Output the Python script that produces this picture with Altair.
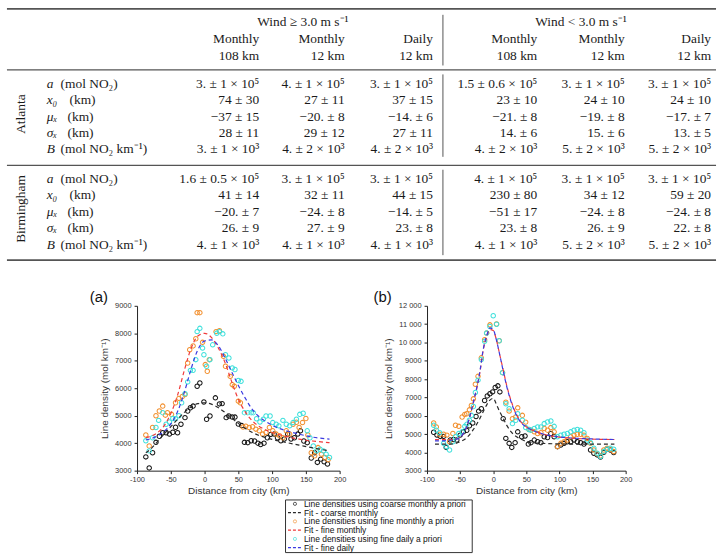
import altair as alt
import pandas as pd

SERIF = "Liberation Serif"
SANS = "Liberation Sans"

# ---------------- fitted parameter table ----------------
wind_heads = ["Wind ≥ 3.0 m s⁻¹", "Wind < 3.0 m s⁻¹"]
prior_kind = ["Monthly", "Monthly", "Daily", "Monthly", "Monthly", "Daily"]
prior_res = ["108 km", "12 km", "12 km", "108 km", "12 km", "12 km"]
param_sym = ["a", "x₀", "μₓ", "σₓ", "B"]
param_unit = ["(mol NO₂)", "(km)", "(km)", "(km)", "(mol NO₂ km⁻¹)"]
city_names = ["Atlanta", "Birmingham"]

atlanta_fits = [
    ["3. ± 1 × 10⁵", "4. ± 1 × 10⁵", "3. ± 1 × 10⁵", "1.5 ± 0.6 × 10⁵", "3. ± 1 × 10⁵", "3. ± 1 × 10⁵"],
    ["74 ± 30", "27 ± 11", "37 ± 15", "23 ± 10", "24 ± 10", "24 ± 10"],
    ["−37 ± 15", "−20. ± 8", "−14. ± 6", "−21. ± 8", "−19. ± 8", "−17. ± 7"],
    ["28 ± 11", "29 ± 12", "27 ± 11", "14. ± 6", "15. ± 6", "13. ± 5"],
    ["3. ± 1 × 10³", "4. ± 2 × 10³", "4. ± 2 × 10³", "4. ± 2 × 10³", "5. ± 2 × 10³", "5. ± 2 × 10³"],
]
birmingham_fits = [
    ["1.6 ± 0.5 × 10⁵", "3. ± 1 × 10⁵", "3. ± 1 × 10⁵", "4. ± 1 × 10⁵", "3. ± 1 × 10⁵", "3. ± 1 × 10⁵"],
    ["41 ± 14", "32 ± 11", "44 ± 15", "230 ± 80", "34 ± 12", "59 ± 20"],
    ["−20. ± 7", "−24. ± 8", "−14. ± 5", "−51 ± 17", "−24. ± 8", "−24. ± 8"],
    ["26. ± 9", "27. ± 9", "23. ± 8", "23. ± 8", "26. ± 9", "22. ± 8"],
    ["4. ± 1 × 10³", "4. ± 1 × 10³", "4. ± 1 × 10³", "4. ± 1 × 10³", "5. ± 2 × 10³", "5. ± 2 × 10³"],
]

# ---------------- panel (a): line densities ----------------
a_coarse_dist = [-87, -82, -77, -72, -67, -62, -57, -52, -47, -43, -40, -35, -29, -25, -21, -17, -11, -7, -1, 3,
                 8, 16, 22, 26, 32, 36, 41, 45, 50, 55, 59, 64, 69, 74, 79, 83, 88, 93, 98, 103,
                 108, 113, 118, 123, 128, 133, 138, 142, 147, 152, 158, 163, 167, 172, 177, 182]
a_coarse_val = [3500, 3100, 3650, 4030, 4250, 4380, 4380, 4330, 4400, 4580, 4380, 4690, 4930, 5170, 5290, 5350, 6070, 6190, 5500, 4870,
                4990, 5650, 5430, 5440, 4930, 4990, 4950, 4950, 4700, 4640, 4030, 4020, 4090, 4080, 4000, 3950, 4000, 4200, 4320, 4330,
                4200, 4090, 4150, 4330, 4150, 4200, 4330, 4450, 4080, 4020, 3460, 3650, 3300, 3420, 3320, 3240]

a_finem_dist = [-87, -82, -77, -72, -67, -62, -58, -55, -49, -43, -38, -33, -29, -25, -22, -17, -13, -11, -7, -3,
                1, 4, 7, 17, 22, 28, 31, 38, 41, 44, 50, 53, 57, 61, 66, 71, 76, 81, 86, 91,
                96, 101, 106, 111, 116, 121, 126, 131, 136, 140, 145, 150, 153, 158, 163, 168, 173, 178, 183]
a_finem_val = [4300, 3900, 4570, 5000, 5170, 5350, 5020, 5110, 5050, 5470, 5630, 5700, 5770, 6920, 7400, 7540, 7800, 8750, 8750, 7670,
               6860, 6620, 7040, 8060, 8090, 7160, 6800, 6430, 6130, 6070, 5530, 5470, 4590, 4620, 4570, 4600, 4510, 4450, 4330, 4390,
               4570, 4450, 4330, 4270, 4200, 4450, 4330, 4690, 4760, 4570, 4750, 4900, 4300, 3650, 3540, 3840, 3600, 3480, 3400]

a_fined_dist = [-87, -82, -77, -72, -68, -62, -57, -52, -47, -43, -38, -34, -29, -25, -21, -17, -13, -11, -7, -3,
                -1, 3, 8, 12, 18, 22, 27, 31, 36, 41, 45, 50, 54, 59, 64, 69, 72, 77, 82, 87,
                91, 97, 101, 106, 110, 116, 121, 126, 131, 136, 141, 146, 152, 156, 161, 166, 171, 176, 180, 185]
a_fined_val = [4090, 3720, 4200, 4570, 4830, 5110, 4690, 4770, 4900, 4890, 5000, 5470, 5800, 6230, 6650, 6650, 7040, 8060, 8180, 7460,
               7220, 6800, 7040, 7580, 8000, 8060, 7980, 7220, 7100, 6740, 6680, 6280, 6250, 5110, 5110, 5110, 5110, 4890, 4770, 4870,
               4990, 4990, 4750, 4690, 4630, 4830, 4690, 4630, 4750, 4870, 5050, 5090, 4450, 4200, 3900, 3720, 3780, 3720, 3600, 3480]

a_fit_dist = [-87, -80, -70, -60, -50, -40, -30, -20, -10, 0, 10, 20, 30, 40, 50, 60, 70, 80, 90, 100, 120, 140, 160, 185]
a_fit_coarse = [3650, 3780, 4050, 4330, 4600, 4870, 5120, 5320, 5440, 5470, 5420, 5300, 5120, 4920, 4720, 4540, 4400, 4290, 4210, 4140, 4030, 3930, 3830, 3720]
a_fit_finem = [4200, 4250, 4380, 4630, 5080, 5750, 6650, 7450, 7900, 8000, 7850, 7480, 6950, 6250, 5600, 5150, 4830, 4620, 4490, 4390, 4250, 4150, 4080, 4020]
a_fit_fined = [4120, 4160, 4260, 4430, 4700, 5150, 5850, 6700, 7400, 7720, 7760, 7560, 7120, 6600, 6100, 5650, 5250, 4980, 4800, 4650, 4460, 4330, 4220, 4150]

# ---------------- panel (b): line densities ----------------
b_coarse_dist = [-90, -85, -80, -75, -71, -65, -60, -55, -50, -45, -40, -36, -31, -26, -22, -18, -13, -9, -5, -1,
                 3, 7, 10, 15, 19, 24, 28, 33, 37, 43, 48, 53, 57, 62, 67, 72, 77, 82, 87, 92,
                 97, 102, 107, 112, 117, 122, 127, 132, 137, 142, 147, 152, 157, 162, 167, 172, 177, 182]
b_coarse_val = [5100, 4950, 4870, 4870, 4270, 4670, 4700, 4670, 4940, 5120, 5200, 5450, 5600, 5960, 6250, 6380, 6830, 7080, 7200, 7300,
                7540, 7630, 7300, 5840, 4760, 4490, 4270, 4530, 5120, 4850, 4890, 4450, 4530, 4670, 4580, 4530, 4850, 4810, 5030, 4850,
                4310, 4400, 4490, 4580, 4580, 4670, 4580, 4530, 4450, 4580, 4130, 3950, 3860, 3740, 4000, 4170, 4130, 3990]

b_finem_dist = [-90, -86, -81, -75, -70, -66, -61, -57, -52, -47, -43, -40, -36, -33, -30, -27, -23, -18, -13, -10,
                -5, 5, 9, 14, 19, 24, 29, 34, 37, 44, 49, 54, 57, 62, 67, 72, 77, 82, 87, 92,
                97, 102, 107, 112, 117, 122, 127, 132, 137, 142, 147, 152, 157, 162, 167, 172, 177, 182]
b_finem_val = [5600, 5390, 4990, 4990, 4940, 4580, 5030, 5480, 5420, 5930, 6070, 6110, 6320, 6560, 6920, 7720, 8150, 9160, 10150, 10510,
               10960, 11010, 10090, 8350, 6740, 6250, 5840, 5930, 6430, 6020, 5650, 5250, 5210, 5120, 5030, 5070, 5300, 5210, 5350, 5120,
               4310, 4490, 4580, 4670, 4850, 4940, 4990, 4990, 4940, 4760, 4490, 4130, 3920, 3810, 4130, 4220, 4170, 4040]

b_fined_dist = [-90, -86, -81, -75, -71, -66, -61, -57, -52, -47, -43, -40, -36, -33, -30, -27, -23, -18, -13, -10,
                -5, 0, 5, 9, 14, 19, 24, 29, 34, 37, 44, 49, 54, 57, 62, 67, 72, 77, 82, 87,
                92, 97, 102, 107, 112, 117, 122, 127, 132, 137, 142, 147, 152, 157, 162, 167, 172, 177, 182]
b_fined_val = [5480, 5210, 5070, 4490, 4310, 4130, 4580, 4850, 5030, 5120, 5420, 5530, 5750, 6020, 6500, 7270, 7940, 9070, 10060, 10510,
               10870, 11460, 10990, 10090, 8350, 6650, 6380, 5570, 5750, 6110, 5750, 5350, 5250, 5210, 5300, 5390, 5390, 5570, 5660, 5710,
               5420, 4850, 4940, 4990, 5030, 5120, 5210, 5250, 5210, 5070, 4670, 4530, 4220, 3950, 3770, 4040, 4170, 4220, 4170]

b_fit_dist = [-88, -80, -70, -60, -50, -40, -30, -20, -15, -10, -5, 0, 5, 10, 15, 20, 30, 40, 50, 60, 75, 100, 125, 150, 183]
b_fit_coarse = [4450, 4450, 4450, 4470, 4580, 4800, 5250, 5860, 6230, 6580, 6850, 6950, 6600, 6200, 5860, 5500, 5000, 4750, 4600, 4530, 4490, 4460, 4450, 4450, 4450]
b_fit_finem = [4690, 4690, 4690, 4710, 4820, 5400, 6700, 8400, 9600, 10300, 10700, 10650, 10100, 9300, 8500, 7700, 6500, 5750, 5400, 5200, 5000, 4830, 4760, 4720, 4700]
b_fit_fined = [4630, 4630, 4640, 4680, 4820, 5420, 6750, 8450, 9650, 10350, 10800, 10700, 10100, 9300, 8450, 7650, 6450, 5720, 5380, 5190, 5000, 4840, 4770, 4730, 4700]

legend_labels = [
    "Line densities using coarse monthly a priori",
    "Fit - coarse monthly",
    "Line densities using fine monthly a priori",
    "Fit - fine monthly",
    "Line densities using fine daily a priori",
    "Fit - fine daily",
]

# ---------------- styling ----------------
C_COARSE, C_FINEM, C_FINED = "#151515", "#f2902f", "#3fe0dc"
C_FIT_COARSE, C_FIT_FINEM, C_FIT_FINED = "#2a2a2a", "#f03a3a", "#3a3ae0"
RULE_COLOR = "#555555"
TEXT_COLOR = "#1a1a1a"

# table grid (pixel units of the table view)
TABLE_W, TABLE_H = 720, 262
COL_RIGHT = [257, 343, 432, 537, 625, 712]
HEAD_CENTER = [301, 581]
HEAD_Y = [19.5, 36.5, 53.3]
ROW_Y = [[82, 98, 115, 131.5, 147.5], [177, 193.5, 210.5, 227, 243.5]]
CITY_X, CITY_Y = 17, [112, 207.5]
LABEL_X = 43
UNIT_X = [57, 66, 64, 64, 57]
HRULES = [(6, 1.6), (67.5, 1.2), (163.5, 1.2), (259, 1.6)]
VRULES = [(12, 63), (72, 155), (168, 254)]
SEP_X = 442

# horizontal room left of the figure panels and of the legend box
PANEL_INDENT = 84
PANEL_GAP = 26
LEGEND_INDENT = 281

tx = alt.Scale(domain=[0, TABLE_W], nice=False, zero=False)
ty = alt.Scale(domain=[0, TABLE_H], nice=False, zero=False, reverse=True)
TX = alt.X("x:Q", scale=tx, axis=None)
TY = alt.Y("y:Q", scale=ty, axis=None)

cells, syms, units, heads_c, heads_r = [], [], [], [], []
for ci, rows in enumerate([atlanta_fits, birmingham_fits]):
    for ri, row in enumerate(rows):
        yy = ROW_Y[ci][ri]
        syms.append({"x": LABEL_X, "y": yy, "text": param_sym[ri]})
        units.append({"x": UNIT_X[ri], "y": yy, "text": param_unit[ri]})
        for k, txt in enumerate(row):
            cells.append({"x": COL_RIGHT[k], "y": yy, "text": txt})
for i, h in enumerate(wind_heads):
    heads_c.append({"x": HEAD_CENTER[i], "y": HEAD_Y[0], "text": h})
for k in range(6):
    heads_r.append({"x": COL_RIGHT[k], "y": HEAD_Y[1], "text": prior_kind[k]})
    heads_r.append({"x": COL_RIGHT[k], "y": HEAD_Y[2], "text": prior_res[k]})
city_rows = [{"x": CITY_X, "y": CITY_Y[i], "text": n} for i, n in enumerate(city_names)]


def ttext(rows, **kw):
    base = dict(font=SERIF, fontSize=13.5, color=TEXT_COLOR, baseline="middle")
    base.update(kw)
    return alt.Chart(pd.DataFrame(rows)).mark_text(**base).encode(x=TX, y=TY, text="text:N")


hrule_layers = [
    alt.Chart(pd.DataFrame([{"x": 3, "x2": 717, "y": yy}]))
    .mark_rule(color=RULE_COLOR, strokeWidth=w)
    .encode(x=TX, x2="x2:Q", y=TY)
    for yy, w in HRULES
]
vrule_layer = (
    alt.Chart(pd.DataFrame([{"x": SEP_X, "y": a, "y2": b} for a, b in VRULES]))
    .mark_rule(color=RULE_COLOR, strokeWidth=1)
    .encode(x=TX, y=TY, y2="y2:Q")
)

table = alt.layer(
    *hrule_layers,
    vrule_layer,
    ttext(cells, align="right"),
    ttext(heads_c, align="center"),
    ttext(heads_r, align="right"),
    ttext(syms, align="left", fontStyle="italic"),
    ttext(units, align="left"),
    ttext(city_rows, align="center", angle=270),
).properties(width=TABLE_W, height=TABLE_H)


# ---------------- scatter panels ----------------
def panel(points, fits, y_top, y_ticks, y_label_expr, tag, width, height):
    x_axis = alt.Axis(
        values=[-100, -50, 0, 50, 100, 150, 200], labelExpr="'' + datum.value",
        title="Distance from city (km)", grid=False, tickSize=3, labelPadding=2,
        labelFontSize=7.5, titleFontSize=10, titlePadding=2, labelFont=SANS, titleFont=SANS,
        titleFontWeight="normal", domainColor="#222", tickColor="#222",
        labelColor="#333", titleColor="#333", labelFlush=False,
    )
    y_axis = alt.Axis(
        values=y_ticks, labelExpr=y_label_expr, title="Line density (mol km⁻¹)", grid=False,
        tickSize=3, labelPadding=3, labelFontSize=7.5, titleFontSize=10, titlePadding=5,
        labelFont=SANS, titleFont=SANS, titleFontWeight="normal", domainColor="#222",
        tickColor="#222", labelColor="#333", titleColor="#333", labelFlush=False,
    )
    xe = alt.X("dist:Q", scale=alt.Scale(domain=[-100, 200], nice=False, zero=False), axis=x_axis)
    ye = alt.Y("value:Q", scale=alt.Scale(domain=[3000, y_top], nice=False, zero=False), axis=y_axis)
    layers = []
    for (d, v), col in points:
        layers.append(
            alt.Chart(pd.DataFrame({"dist": d, "value": v}))
            .mark_point(shape="circle", filled=False, size=20, strokeWidth=1.05, opacity=1)
            .encode(x=xe, y=ye, color=alt.value(col))
        )
    for (d, v), col in fits:
        layers.append(
            alt.Chart(pd.DataFrame({"dist": d, "value": v}))
            .mark_line(strokeDash=[4, 3], strokeWidth=1.2, interpolate="monotone")
            .encode(x=xe, y=ye, color=alt.value(col))
        )
    return alt.layer(*layers).properties(
        width=width, height=height,
        title=alt.TitleParams(tag, anchor="start", frame="bounds", fontSize=15, fontWeight="normal",
                              font=SANS, color="#111", dx=-10, dy=3, offset=0),
    )


panel_a = panel(
    [((a_coarse_dist, a_coarse_val), C_COARSE), ((a_finem_dist, a_finem_val), C_FINEM), ((a_fined_dist, a_fined_val), C_FINED)],
    [((a_fit_dist, a_fit_coarse), C_FIT_COARSE), ((a_fit_dist, a_fit_finem), C_FIT_FINEM), ((a_fit_dist, a_fit_fined), C_FIT_FINED)],
    9000, [3000, 4000, 5000, 6000, 7000, 8000, 9000], "'' + datum.value", "(a)", 204, 166,
)
panel_b = panel(
    [((b_coarse_dist, b_coarse_val), C_COARSE), ((b_finem_dist, b_finem_val), C_FINEM), ((b_fined_dist, b_fined_val), C_FINED)],
    [((b_fit_dist, b_fit_coarse), C_FIT_COARSE), ((b_fit_dist, b_fit_finem), C_FIT_FINEM), ((b_fit_dist, b_fit_fined), C_FIT_FINED)],
    12000, [3000, 4000, 5000, 6000, 7000, 8000, 9000, 10000, 11000, 12000],
    "datum.value >= 10000 ? replace(format(datum.value, ','), ',', ' ') : '' + datum.value", "(b)", 200, 166,
)

# ---------------- legend ----------------
leg_df = pd.DataFrame({"row": list(range(6)), "label": legend_labels})
LY = alt.Y("row:Q", scale=alt.Scale(domain=[-0.5, 5.5], reverse=True, nice=False, zero=False), axis=None)
leg_colors = [C_COARSE, C_FIT_COARSE, C_FINEM, C_FIT_FINEM, C_FINED, C_FIT_FINED]
leg_layers = []
for i, col in enumerate(leg_colors):
    sub = alt.Chart(leg_df.iloc[[i]])
    if i % 2 == 0:
        leg_layers.append(sub.mark_point(shape="circle", filled=False, size=10, strokeWidth=1)
                          .encode(x=alt.value(10), y=LY, color=alt.value(col)))
    else:
        leg_layers.append(sub.mark_rule(strokeDash=[3, 2], strokeWidth=1.2)
                          .encode(x=alt.value(3), x2=alt.value(16), y=LY, color=alt.value(col)))
leg_layers.append(
    alt.Chart(leg_df).mark_text(align="left", baseline="middle", fontSize=8.5, font=SANS, color="#111")
    .encode(x=alt.value(19), y=LY, text="label:N")
)
legend_box = alt.layer(*leg_layers).properties(
    width=188, height=53, view=alt.ViewBackground(stroke="#333", strokeWidth=1)
)


def blank(width, height):
    # empty spacer view used to indent a row
    return alt.Chart(pd.DataFrame({"row": [0]})).mark_point(opacity=0).encode(
        x=alt.value(0), y=alt.value(0)
    ).properties(width=width, height=height)


panels_row = alt.hconcat(
    blank(PANEL_INDENT, 10), alt.hconcat(panel_a, panel_b, spacing=PANEL_GAP), spacing=0
)
legend_row = alt.hconcat(blank(LEGEND_INDENT, 53), legend_box, spacing=0)

chart = (
    alt.vconcat(table, alt.vconcat(panels_row, legend_row, spacing=0), spacing=25)
    .properties(padding=0, background="white")
    .configure_view(stroke="transparent")
)

chart.save("out.html", embed_options={"renderer": "svg", "actions": False})
